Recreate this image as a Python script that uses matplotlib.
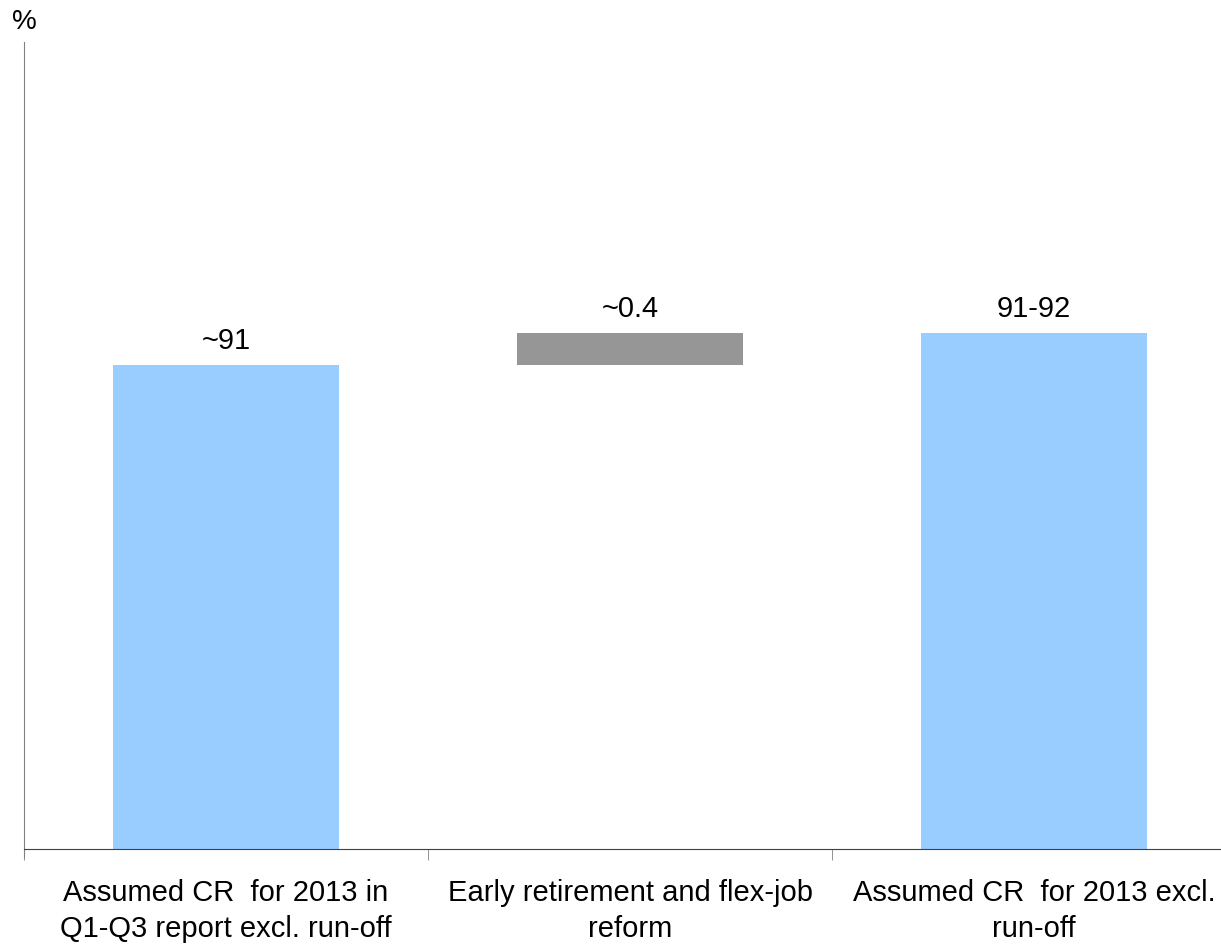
# waterfall: assumed combined ratio 2013

import numpy as np
import matplotlib.pyplot as plt
from matplotlib.transforms import offset_copy

categories = ['Assumed CR  for 2013 in\nQ1-Q3 report excl. run-off',
              'Early retirement and flex-job\nreform',
              'Assumed CR  for 2013 excl.\nrun-off']
start_value = 91.0
change = 0.4
end_value = 91.4
value_labels = ['~91', '~0.4', '91-92']

plt.rcParams["font.family"] = ["Liberation Sans", "DejaVu Sans"]

fig = plt.figure(figsize=(12.21, 9.45), dpi=100)
ax = fig.add_axes([0.0197, 0.1005, 0.9926, 0.854])

x = np.arange(len(categories))
y_min = 85

bottoms = [y_min, start_value, y_min]
heights = [start_value - y_min, change, end_value - y_min]
colors = ['#99ccff', '#969696', '#99ccff']

ax.bar(x, heights, bottom=bottoms, width=0.56, color=colors, zorder=2)

# value labels above each bar
tops = [b + h for b, h in zip(bottoms, heights)]
for xi, top, lab in zip(x, tops, value_labels):
    ax.text(xi, top, lab, ha='center', va='bottom', fontsize=21,
            transform=offset_copy(ax.transData, fig=fig, y=11, units='dots'))

ax.set_xlim(-0.5, 2.5)
ax.set_ylim(y_min, 95)

# category labels centred, ticks on the boundaries
ax.set_xticks(x)
ax.set_xticklabels(categories, fontsize=21, linespacing=1.35)
ax.set_xticks(np.arange(-0.5, 3, 1), minor=True)
ax.tick_params(axis='x', which='major', length=0, pad=21)
ax.tick_params(axis='x', which='minor', length=8, direction='out', color='#808080')
ax.set_yticks([])

for s in ['top', 'right']:
    ax.spines[s].set_visible(False)
ax.spines['left'].set_color('#808080')
ax.spines['bottom'].set_color('#404040')
ax.spines['left'].set_bounds(y_min - 0.1, 95)

fig.text(24 / 1221, 1 - 22 / 945, '%', ha='center', va='center', fontsize=20)

plt.savefig("out.png", dpi=100)
